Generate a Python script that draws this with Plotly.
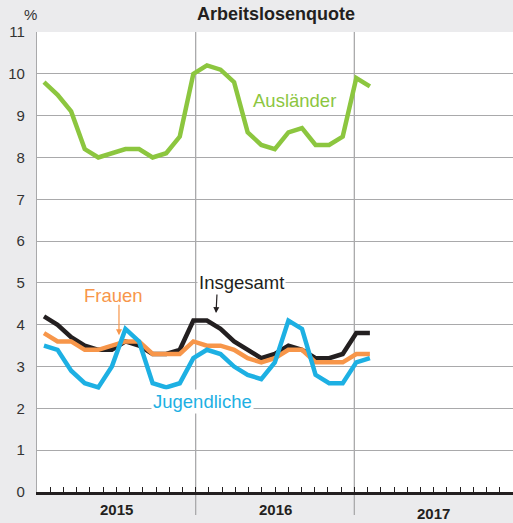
import plotly.graph_objects as go

# Monthly unemployment rates (%), Jan 2015 – Jan 2017
months = [f"{y}-{m:02d}" for y in (2015, 2016) for m in range(1, 13)] + ["2017-01"]

auslaender = [9.8, 9.5, 9.1, 8.2, 8.0, 8.1, 8.2, 8.2, 8.0, 8.1, 8.5, 10.0,
              10.2, 10.1, 9.8, 8.6, 8.3, 8.2, 8.6, 8.7, 8.3, 8.3, 8.5, 9.9,
              9.7]
insgesamt = [4.2, 4.0, 3.7, 3.5, 3.4, 3.4, 3.6, 3.5, 3.3, 3.3, 3.4, 4.1,
             4.1, 3.9, 3.6, 3.4, 3.2, 3.3, 3.5, 3.4, 3.2, 3.2, 3.3, 3.8,
             3.8]
frauen = [3.8, 3.6, 3.6, 3.4, 3.4, 3.5, 3.6, 3.6, 3.3, 3.3, 3.3, 3.6,
          3.5, 3.5, 3.4, 3.2, 3.1, 3.2, 3.4, 3.4, 3.1, 3.1, 3.1, 3.3,
          3.3]
jugendliche = [3.5, 3.4, 2.9, 2.6, 2.5, 3.0, 3.9, 3.6, 2.6, 2.5, 2.6, 3.2,
               3.4, 3.3, 3.0, 2.8, 2.7, 3.1, 4.1, 3.9, 2.8, 2.6, 2.6, 3.1,
               3.2]

years = ["2015", "2016", "2017"]
y_ticks = list(range(0, 12))

GREEN = "#8cc63f"
ORANGE = "#f7964a"
BLUE = "#1db0e3"
BLACK = "#231f20"
GRID = "#a9a9ab"
FONT = "Liberation Sans, Arial, sans-serif"

idx = list(range(len(months)))

fig = go.Figure()
for name, vals, col in [("Ausländer", auslaender, GREEN),
                        ("Insgesamt", insgesamt, BLACK),
                        ("Frauen", frauen, ORANGE),
                        ("Jugendliche", jugendliche, BLUE)]:
    fig.add_trace(go.Scatter(x=idx, y=vals, mode="lines", name=name,
                             customdata=months, xaxis="x2",
                             line=dict(color=col, width=4.5),
                             hovertemplate="%{customdata}: %{y}<extra>" + name + "</extra>"))

# year separators running through the plot and down past the axis
for k in (12, 24):
    fig.add_shape(type="line", xref="x", yref="paper", x0=k, x1=k, y0=-0.05, y1=1,
                  line=dict(color=GRID, width=1.3), layer="below")

ann = []
# year labels
for k, yr in enumerate(years):
    ann.append(dict(x=6 + 12 * k, y=-0.037 if k < 2 else -0.046, xref="x", yref="paper",
                    text=f"<b>{yr}</b>", showarrow=False, yanchor="middle",
                    font=dict(family=FONT, size=15, color=BLACK)))
# series labels
labels = [("Ausländer", 19.5, 9.36, GREEN),
          ("Insgesamt", 15.43, 5.0, BLACK),
          ("Frauen", 5.82, 4.71, ORANGE),
          ("Jugendliche", 12.48, 2.16, BLUE)]
for txt, x, y, col in labels:
    ann.append(dict(x=x, y=y, xref="x", yref="y", text=txt, showarrow=False,
                    bgcolor="white", borderpad=1, yanchor="middle",
                    font=dict(family=FONT, size=18.5, color=col)))
# pointer arrows
ann.append(dict(x=13.54, y=4.28, xref="x", yref="y", text="", showarrow=True,
                ax=1, ay=-20, arrowhead=2, arrowsize=1, arrowwidth=1.2, arrowcolor=BLACK))
ann.append(dict(x=6.2, y=3.75, xref="x", yref="y", text="", showarrow=True,
                ax=0, ay=-32, arrowhead=2, arrowsize=1, arrowwidth=1.2, arrowcolor=ORANGE))
# title and unit
ann.append(dict(x=0.502, y=1.039, xref="paper", yref="paper", text="<b>Arbeitslosenquote</b>",
                showarrow=False, yanchor="middle",
                font=dict(family=FONT, size=18, color=BLACK)))
ann.append(dict(x=-0.0315, y=1.037, xref="paper", yref="paper", text="%",
                showarrow=False, yanchor="middle",
                font=dict(family=FONT, size=15, color="#333333")))

fig.update_layout(
    width=513, height=523,
    margin=dict(l=37, r=0, t=32, b=31),
    paper_bgcolor="#ebebed",
    plot_bgcolor="white",
    showlegend=False,
    font=dict(family=FONT, color="#333333"),
    xaxis=dict(range=[0, 36], tickmode="array", tickvals=list(range(1, 36)),
               ticks="inside", ticklen=5, tickwidth=1, tickcolor=BLACK,
               showticklabels=False, showgrid=False, zeroline=False,
               showline=True, linecolor=BLACK, linewidth=2.5, fixedrange=True),
    xaxis2=dict(overlaying="x", range=[-0.515, 34.54], visible=False, fixedrange=True),
    yaxis=dict(range=[0, 11], tickmode="array", tickvals=y_ticks,
               ticktext=[str(v) for v in y_ticks], ticks="", ticklabelstandoff=8,
               tickfont=dict(family=FONT, size=15, color="#333333"),
               showgrid=True, gridcolor=GRID, gridwidth=1.3, zeroline=False,
               showline=True, linecolor=GRID, linewidth=1.2, fixedrange=True),
    annotations=ann,
)

fig.write_html("out.html")
